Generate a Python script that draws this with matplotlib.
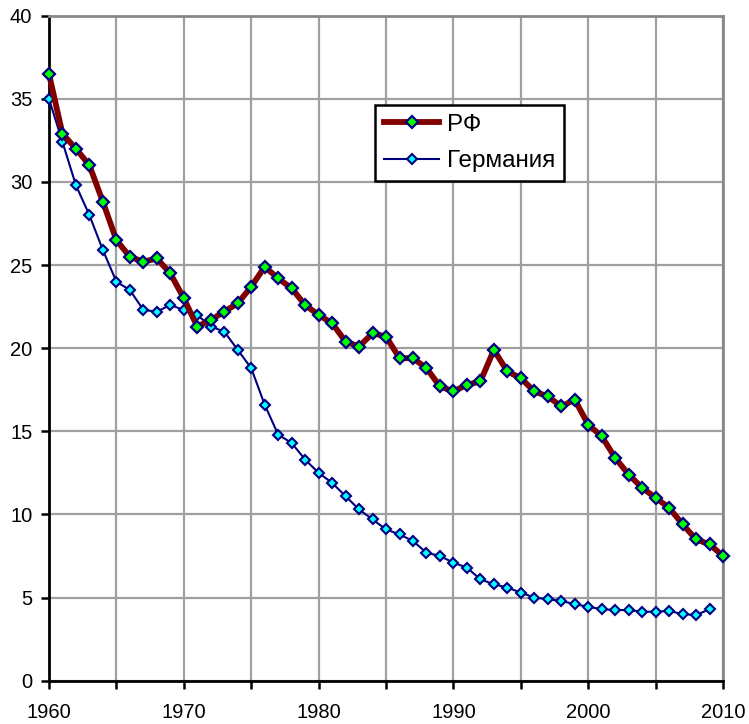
import matplotlib.pyplot as plt
import numpy as np
import matplotlib.ticker as mticker

plt.rcParams['font.family'] = ['Liberation Sans', 'DejaVu Sans']

years_rf = np.arange(1960, 2011)
rf = [36.5, 32.9, 32.0, 31.0, 28.8, 26.5, 25.5, 25.2, 25.4, 24.5,
      23.0, 21.3, 21.7, 22.2, 22.7, 23.7, 24.9, 24.2, 23.6, 22.6,
      22.0, 21.5, 20.4, 20.1, 20.9, 20.7, 19.4, 19.4, 18.8, 17.7,
      17.4, 17.8, 18.0, 19.9, 18.6, 18.2, 17.4, 17.1, 16.5, 16.9,
      15.4, 14.7, 13.4, 12.4, 11.6, 11.0, 10.4, 9.4, 8.5, 8.2,
      7.5]

years_de = np.arange(1960, 2010)
germany = [35.0, 32.4, 29.8, 28.0, 25.9, 24.0, 23.5, 22.3, 22.2, 22.6,
           22.3, 22.0, 21.3, 21.0, 19.9, 18.8, 16.6, 14.8, 14.3, 13.3,
           12.5, 11.9, 11.1, 10.3, 9.7, 9.1, 8.8, 8.4, 7.7, 7.5,
           7.1, 6.8, 6.1, 5.8, 5.6, 5.3, 5.0, 4.9, 4.8, 4.6,
           4.45, 4.3, 4.25, 4.25, 4.15, 4.15, 4.2, 4.0, 3.95, 4.3]

fig = plt.figure(figsize=(7.49, 7.24), dpi=100)
ax = fig.add_axes([0.0654, 0.0598, 0.9, 0.9185])

ax.plot(years_rf, rf, color='#800000', linewidth=4.2, marker='D',
        markersize=6.5, markerfacecolor='#00ff00', markeredgecolor='#000080',
        markeredgewidth=1.6, label='РФ', clip_on=False, zorder=4)
ax.plot(years_de, germany, color='#000080', linewidth=1.5, marker='D',
        markersize=5.2, markerfacecolor='#00ffff', markeredgecolor='#000080',
        markeredgewidth=1.5, label='Германия', clip_on=False, zorder=3)

ax.set_xlim(1960, 2010)
ax.set_ylim(0, 40)
ax.xaxis.set_major_locator(mticker.MultipleLocator(5))
ax.yaxis.set_major_locator(mticker.MultipleLocator(5))
ax.xaxis.set_major_formatter(mticker.FuncFormatter(
    lambda v, p: f'{int(v)}' if int(round(v)) % 10 == 0 else ''))

ax.set_axisbelow(True)
ax.grid(True, color='#a0a0a0', linewidth=1.6)
ax.tick_params(axis='both', direction='out', length=6, width=1.8,
               labelsize=14.5, color='black')
ax.tick_params(axis='x', pad=10)
ax.tick_params(axis='y', pad=6)

for side in ['left', 'bottom']:
    ax.spines[side].set_color('black')
    ax.spines[side].set_linewidth(2)
for side in ['top', 'right']:
    ax.spines[side].set_color('#888888')
    ax.spines[side].set_linewidth(2)

leg = ax.legend(loc='upper left', bbox_to_anchor=(0.4837, 0.8657),
                borderaxespad=0, fontsize=17.5, frameon=True, fancybox=False,
                handlelength=2.3, handletextpad=0.3, borderpad=0.35,
                labelspacing=0.6)
leg.get_frame().set_edgecolor('black')
leg.get_frame().set_linewidth(1.8)
leg.get_frame().set_alpha(1)

fig.savefig('out.png', dpi=100)
